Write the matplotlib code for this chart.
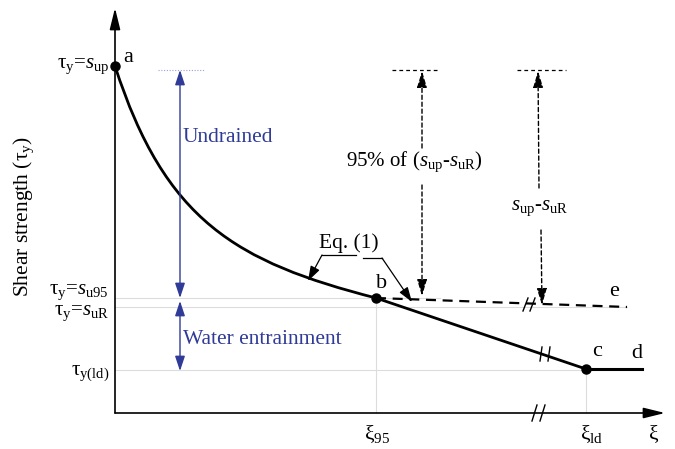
import matplotlib.pyplot as plt
from matplotlib.path import Path
from matplotlib.patches import PathPatch

plt.rcParams['font.family'] = 'Liberation Serif'
plt.rcParams['mathtext.fontset'] = 'custom'
plt.rcParams['mathtext.rm'] = 'Liberation Serif'
plt.rcParams['mathtext.it'] = 'Liberation Serif:italic'

# positions in figure pixels (y measured from the top)
x_axis, y_axis = 115, 413
x_95, x_ld = 376, 586
tau_up, tau_95, tau_R, tau_ld = 66, 298, 307, 369
curve_ctrl = [(115, 66), (165, 221), (236, 262), (376, 298)]   # Eq. (1) curve a -> b
e_end = (627, 307)
d_end = 642
left_labels = [r'$\mathrm{\tau_y}$=$s_\mathrm{up}$', r'$\mathrm{\tau_y}$=$s_\mathrm{u95}$',
               r'$\mathrm{\tau_y}$=$s_\mathrm{uR}$', r'$\mathrm{\tau_{y(ld)}}$']
left_label_y = [66, 292, 313, 373]
x_labels = [r'$\mathrm{\xi_{95}}$', r'$\mathrm{\xi_{ld}}$', r'$\mathrm{\xi}$']
x_label_x = [377, 592, 654]

blue = '#2f3b97'
grey = '#dcdcdc'

fig = plt.figure(figsize=(6.75, 4.49), dpi=100)
ax = fig.add_axes([0, 0, 1, 1])
ax.set_xlim(0, 675)
ax.set_ylim(449, 0)
ax.axis('off')


def arrow(p0, p1, color='k', lw=1.0, ls='-', style='-|>', hl=0.8, hw=0.3):
    ax.annotate('', xy=p1, xytext=p0,
                arrowprops=dict(arrowstyle=f'{style},head_length={hl},head_width={hw}',
                                color=color, lw=lw, linestyle=ls, shrinkA=0, shrinkB=0))


# light guide lines
ax.plot([x_axis, 440], [tau_95, tau_95], color=grey, lw=0.8)
ax.plot([x_axis, e_end[0]], [tau_R, tau_R], color=grey, lw=0.8)
ax.plot([x_axis, x_ld], [tau_ld + 1, tau_ld + 1], color=grey, lw=0.8)
ax.plot([x_95, x_95], [tau_95, y_axis], color=grey, lw=0.8)
ax.plot([x_ld, x_ld], [tau_ld, y_axis], color=grey, lw=0.8)

# axes
arrow((x_axis, y_axis), (x_axis, 8), lw=1.2, hl=1.3, hw=0.32)
arrow((x_axis, y_axis), (665, y_axis), lw=1.2, hl=1.3, hw=0.32)
for dx in (0, 8):
    ax.plot([532 + dx, 537 + dx], [421, 405], color='k', lw=1.0)

# curve a -> b
path = Path(curve_ctrl, [Path.MOVETO, Path.CURVE4, Path.CURVE4, Path.CURVE4])
ax.add_patch(PathPatch(path, fill=False, color='k', lw=2.0))

# b -> c solid line and c -> d
ax.plot([x_95, x_ld], [tau_95, tau_ld], color='k', lw=2.0)
ax.plot([x_ld, d_end], [tau_ld, tau_ld], color='k', lw=2.2)
for dx in (0, 8):
    ax.plot([540 + dx, 542 + dx], [361, 347], color='k', lw=1.0)

# b -> e dashed
ax.plot([x_95, e_end[0]], [tau_95, e_end[1]], color='k', lw=1.6, ls=(0, (4.5, 3)))
for dx in (0, 7):
    ax.plot([523 + dx, 528 + dx], [311, 298], color='k', lw=1.0)

# points
ax.plot([curve_ctrl[0][0], x_95, x_ld], [tau_up, tau_95, tau_ld], 'o', color='k', ms=6.5)

# blue arrows
ax.plot([158, 204], [70, 70], color='#9aa2d8', lw=0.8, ls=(0, (1, 1.5)))
arrow((180, tau_95), (180, 70), color=blue, lw=1.0, style='<|-|>', hl=0.9, hw=0.3)
arrow((180, 371), (180, 301), color=blue, lw=1.0, style='<|-|>', hl=0.9, hw=0.3)
ax.text(183, 137, 'Undrained', color=blue, fontsize=15.5, va='center', ha='left')
ax.text(183, 340, 'Water entrainment', color=blue, fontsize=15.5, va='center', ha='left')

# dashed difference arrows
ax.plot([392, 440], [70, 70], color='k', lw=0.9, ls=(0, (3, 2.5)))
ax.plot([517, 566], [70, 70], color='k', lw=0.9, ls=(0, (3, 2.5)))
arrow((422, 148), (422, 71), lw=1.0, ls=(0, (3, 2)), hl=1.0, hw=0.3)
arrow((422, 185), (422, 296), lw=1.0, ls=(0, (3, 2)), hl=1.0, hw=0.3)
arrow((539, 188), (538, 71), lw=1.0, ls=(0, (3, 2)), hl=1.0, hw=0.3)
arrow((541, 230), (542, 305), lw=1.0, ls=(0, (3, 2)), hl=1.0, hw=0.3)
ax.text(414, 162, r'95% of ($s_\mathrm{up}$-$s_\mathrm{uR}$)', fontsize=15, ha='center', va='center')
ax.text(540, 208, r'$s_\mathrm{up}$-$s_\mathrm{uR}$', fontsize=15, ha='center', va='center')

# Eq. (1) leaders
ax.text(349, 243, 'Eq. (1)', fontsize=15.5, ha='center', va='center')
ax.plot([322, 356], [255, 255], color='k', lw=0.9)
arrow((322, 255), (308, 281), lw=0.9, hl=0.9, hw=0.3)
ax.plot([363, 382], [258, 258], color='k', lw=0.9)
arrow((382, 258), (412, 302), lw=0.9, hl=0.9, hw=0.3)

# point labels
for lab, (px, py) in zip(['a', 'b', 'c', 'd', 'e'],
                         [(128, 58), (382, 284), (597, 352), (637, 353), (614, 291)]):
    ax.text(px, py, lab, fontsize=16, ha='center', va='center')

# axis labels
for lab, ly in zip(left_labels, left_label_y):
    ax.text(109, ly, lab, fontsize=15, ha='right', va='center')
for lab, lx in zip(x_labels, x_label_x):
    ax.text(lx, 434, lab, fontsize=15.5, ha='center', va='center')
ax.text(24, 216, r'Shear strength ($\mathrm{\tau_y}$)', fontsize=15.5, rotation=90,
        ha='center', va='center')

fig.savefig('out.png', dpi=100)
